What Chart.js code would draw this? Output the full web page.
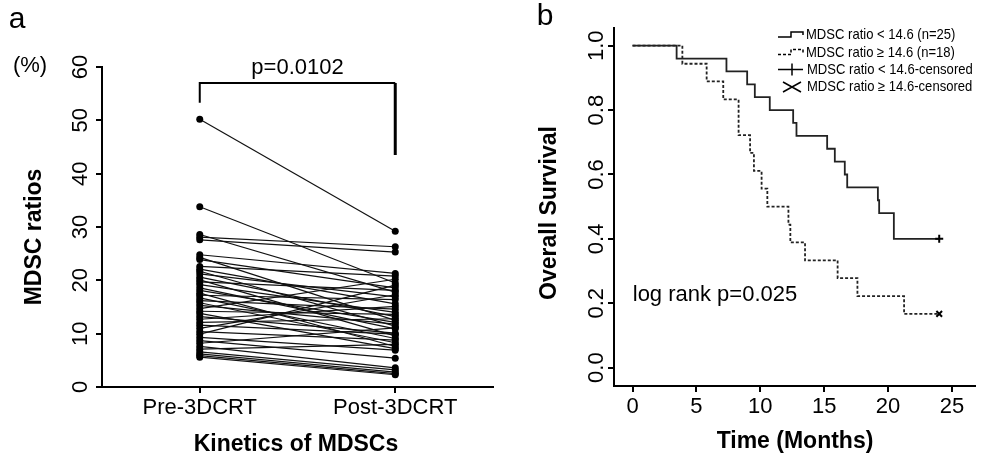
<!DOCTYPE html>
<html>
<head>
    <title>MDSC ratios and overall survival</title>
    <script src="https://cdn.jsdelivr.net/npm/chart.js"></script>
    <style>
        body {
            margin: 0;
            background-color: white;
        }
        .wrap {
            position: relative;
            width: 998px;
            height: 457px;
        }
        canvas {
            position: absolute;
            top: 0;
        }
        #mdscChart { left: 0; }
        #survChart { left: 500px; }
    </style>
</head>
<body>
    <div class="wrap">
        <canvas id="mdscChart" width="500" height="457"></canvas>
        <canvas id="survChart" width="498" height="457"></canvas>
    </div>

    <script>
        // Panel a - paired MDSC ratios (%)
        const groups = ['Pre-3DCRT', 'Post-3DCRT'];
        const preValues = [50.2, 33.8, 28.6, 28.1, 27.6, 24.8, 24.3, 23.9, 22.6, 22.1, 21.7,
                           21.2, 20.6, 20.1, 19.7, 19.2, 18.6, 18.1, 17.6, 17.2, 16.7, 16.2,
                           15.8, 15.3, 14.7, 14.2, 13.8, 13.2, 12.7, 12.1, 11.6, 11.0, 10.4,
                           9.9, 9.3, 8.7, 8.2, 7.6, 7.1, 6.6, 6.2, 5.9, 5.6];
        const postValues = [29.2, 19.5, 17.8, 26.3, 25.3, 21.3, 12.5, 18.6, 20.8, 15.6, 11.4,
                            16.9, 13.2, 9.6, 18.1, 14.0, 10.9, 12.1, 7.6, 16.4, 9.1, 14.6,
                            8.3, 11.8, 20.2, 13.6, 7.2, 10.1, 15.1, 12.8, 9.9, 17.3, 8.8,
                            19.1, 6.9, 5.4, 11.1, 3.6, 8.0, 3.2, 2.8, 2.5, 2.3];
        const mdscTicks = [0, 10, 20, 30, 40, 50, 60];

        // Panel b - Kaplan-Meier curves (months, survival)
        const lowTimes = [0, 3.45, 7.35, 8.97, 9.57, 10.74, 12.57, 12.83, 15.23, 15.83,
                          16.61, 16.8, 19.2, 19.3, 20.45, 24];
        const lowSurv = [1.0, 0.96, 0.92, 0.88, 0.84, 0.80, 0.76, 0.72, 0.68, 0.64,
                         0.60, 0.56, 0.52, 0.48, 0.40, 0.40];
        const highTimes = [0, 3.9, 5.8, 7.1, 8.3, 9.2, 9.5, 10.1, 10.55, 12.2, 12.35,
                           13.5, 16.05, 17.6, 21.25, 24];
        const highSurv = [1.0, 0.944, 0.889, 0.833, 0.722, 0.667, 0.611, 0.556, 0.5, 0.444,
                          0.389, 0.333, 0.278, 0.222, 0.167, 0.167];
        const timeTicks = [0, 5, 10, 15, 20, 25];
        const survTicks = [0, 0.2, 0.4, 0.6, 0.8, 1.0];
        const legendLabels = ['MDSC ratio < 14.6 (n=25)', 'MDSC ratio \u2265 14.6 (n=18)',
                              'MDSC ratio < 14.6-censored', 'MDSC ratio \u2265 14.6-censored'];

        const FONT = '"Liberation Sans", Arial, sans-serif';
        Chart.defaults.font.family = FONT;
        Chart.defaults.color = '#000';

        function axisGrid() {
            return { drawOnChartArea: false, drawTicks: true, tickLength: 6, color: '#000', lineWidth: 2 };
        }

        function text(ctx, str, x, y, size, bold, rotate) {
            ctx.save();
            ctx.translate(x, y);
            if (rotate) ctx.rotate(-Math.PI / 2);
            ctx.font = (bold ? 'bold ' : '') + size + 'px ' + FONT;
            ctx.fillStyle = '#000';
            ctx.textAlign = 'center';
            ctx.textBaseline = 'middle';
            ctx.fillText(str, 0, 0);
            ctx.restore();
        }

        // Panel a
        const mdscText = {
            id: 'mdscText',
            afterDraw(chart) {
                const ctx = chart.ctx;
                const y = chart.scales.y;
                const x = chart.scales.x;
                mdscTicks.forEach(v => text(ctx, String(v), 81, y.getPixelForValue(v), 22, false, true));
                text(ctx, 'a', 17, 20, 30, false, false);
                text(ctx, '(%)', 30, 66, 22, false, false);
                text(ctx, 'MDSC ratios', 35, 237, 23, true, true);
                text(ctx, 'Kinetics of MDSCs', 296, 445, 23, true, false);

                // significance bracket
                const x0 = x.getPixelForValue(0);
                const x1 = x.getPixelForValue(1);
                const top = y.getPixelForValue(57);
                ctx.save();
                ctx.strokeStyle = '#000';
                ctx.lineWidth = 2;
                ctx.beginPath();
                ctx.moveTo(x0, y.getPixelForValue(53.3));
                ctx.lineTo(x0, top);
                ctx.lineTo(x1, top);
                ctx.stroke();
                ctx.lineWidth = 3;
                ctx.beginPath();
                ctx.moveTo(x1, top);
                ctx.lineTo(x1, y.getPixelForValue(43.5));
                ctx.stroke();
                ctx.restore();
                text(ctx, 'p=0.0102', (x0 + x1) / 2, 68, 22, false, false);
            }
        };

        new Chart(document.getElementById('mdscChart'), {
            type: 'line',
            data: {
                labels: groups,
                datasets: preValues.map((v, i) => ({
                    data: [v, postValues[i]],
                    borderColor: '#111',
                    borderWidth: 1.2,
                    pointRadius: 3.5,
                    pointBackgroundColor: '#000',
                    pointBorderWidth: 0,
                    tension: 0,
                    clip: false
                }))
            },
            options: {
                responsive: false,
                animation: false,
                layout: { padding: { top: 67, right: 7, left: 0, bottom: 0 } },
                plugins: { legend: { display: false }, tooltip: { enabled: false } },
                scales: {
                    x: {
                        type: 'category',
                        offset: true,
                        grid: axisGrid(),
                        border: { color: '#000', width: 2 },
                        ticks: { font: { size: 22 }, color: '#000', padding: 2, maxRotation: 0 },
                        afterFit: s => { s.height = 70; }
                    },
                    y: {
                        min: 0,
                        max: 60,
                        afterBuildTicks: s => { s.ticks = mdscTicks.map(v => ({ value: v })); },
                        grid: axisGrid(),
                        border: { color: '#000', width: 2 },
                        ticks: { display: false },
                        afterFit: s => { s.width = 102; }
                    }
                }
            },
            plugins: [mdscText]
        });

        // Panel b
        const survText = {
            id: 'survText',
            afterDraw(chart) {
                const ctx = chart.ctx;
                const y = chart.scales.y;
                survTicks.forEach(v => text(ctx, v.toFixed(1), 97, y.getPixelForValue(v), 22, false, true));
                text(ctx, 'b', 45, 17, 30, false, false);
                text(ctx, 'Overall Survival', 50, 213, 23, true, true);
                text(ctx, 'Time (Months)', 295, 442, 23, true, false);
                text(ctx, 'log rank p=0.025', 215, 295, 22, false, false);

                // legend
                const rows = [35, 52.5, 69.5, 87];
                ctx.save();
                ctx.strokeStyle = '#000';
                ctx.lineWidth = 1.5;
                [0, 1].forEach(i => {
                    const r = rows[i];
                    ctx.setLineDash(i === 0 ? [] : [3, 2]);
                    ctx.beginPath();
                    ctx.moveTo(278, r + 2);
                    ctx.lineTo(291, r + 2);
                    ctx.lineTo(291, r - 3);
                    ctx.lineTo(303, r - 3);
                    ctx.lineTo(303, r);
                    ctx.stroke();
                });
                ctx.setLineDash([]);
                ctx.beginPath();
                ctx.moveTo(278, rows[2]);
                ctx.lineTo(303, rows[2]);
                ctx.moveTo(292, rows[2] - 6);
                ctx.lineTo(292, rows[2] + 6);
                ctx.moveTo(283, rows[3] - 5);
                ctx.lineTo(301, rows[3] + 5);
                ctx.moveTo(283, rows[3] + 5);
                ctx.lineTo(301, rows[3] - 5);
                ctx.stroke();
                ctx.fillStyle = '#000';
                ctx.textAlign = 'left';
                ctx.textBaseline = 'middle';
                legendLabels.forEach((l, i) => {
                    ctx.save();
                    ctx.translate(i < 2 ? 306 : 307, rows[i]);
                    ctx.scale(0.9, 1);
                    ctx.font = '14.5px ' + FONT;
                    ctx.fillText(l, 0, 0);
                    ctx.restore();
                });
                ctx.restore();
            }
        };

        const lastPoint = n => (c => (c.dataIndex === n - 1 ? 4 : 0));

        new Chart(document.getElementById('survChart'), {
            type: 'line',
            data: {
                datasets: [
                    {
                        data: highTimes.map((t, i) => ({ x: t, y: highSurv[i] })),
                        stepped: true,
                        borderColor: '#222',
                        borderWidth: 1.8,
                        borderDash: [3, 2],
                        pointStyle: 'crossRot',
                        pointRadius: lastPoint(highTimes.length),
                        pointBorderColor: '#000',
                        pointBorderWidth: 2,
                        clip: false
                    },
                    {
                        data: lowTimes.map((t, i) => ({ x: t, y: lowSurv[i] })),
                        stepped: true,
                        borderColor: '#222',
                        borderWidth: 1.8,
                        pointStyle: 'cross',
                        pointRadius: lastPoint(lowTimes.length),
                        pointBorderColor: '#000',
                        pointBorderWidth: 2,
                        clip: false
                    }
                ]
            },
            options: {
                responsive: false,
                animation: false,
                layout: { padding: { top: 28, right: 23, left: 0, bottom: 0 } },
                plugins: { legend: { display: false }, tooltip: { enabled: false } },
                scales: {
                    x: {
                        type: 'linear',
                        min: -1.45,
                        max: 26.8,
                        afterBuildTicks: s => { s.ticks = timeTicks.map(v => ({ value: v })); },
                        grid: axisGrid(),
                        border: { color: '#000', width: 2 },
                        ticks: { font: { size: 22 }, color: '#000', padding: 2, maxRotation: 0 },
                        afterFit: s => { s.height = 71; }
                    },
                    y: {
                        min: -0.057,
                        max: 1.055,
                        afterBuildTicks: s => { s.ticks = survTicks.map(v => ({ value: v })); },
                        grid: axisGrid(),
                        border: { color: '#000', width: 2 },
                        ticks: { display: false },
                        afterFit: s => { s.width = 114; }
                    }
                }
            },
            plugins: [survText]
        });
    </script>
</body>
</html>
